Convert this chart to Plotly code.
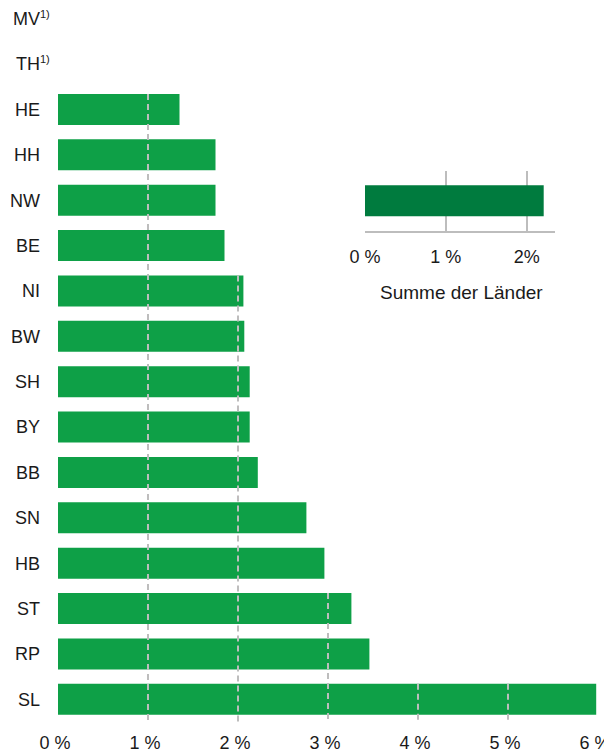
import plotly.graph_objects as go

# Anteil je Land (in %), von oben nach unten; MV und TH ohne Wert
states = ["MV", "TH", "HE", "HH", "NW", "BE", "NI", "BW",
          "SH", "BY", "BB", "SN", "HB", "ST", "RP", "SL"]
values = [None, None, 1.35, 1.75, 1.75, 1.85, 2.06, 2.07,
          2.13, 2.13, 2.22, 2.76, 2.96, 3.26, 3.46, 5.98]
footnotes = {"MV": "1)", "TH": "1)"}

x_ticks = [0, 1, 2, 3, 4, 5, 6]
x_ticktext = ["0 %", "1 %", "2 %", "3 %", "4 %", "5 %", "6 %"]

# Kleines Diagramm rechts oben
total_label = "Summe der Länder"
total_value = 2.21
total_ticks = [0, 1, 2]
total_ticktext = ["0 %", "1 %", "2%"]

GREEN = "#0EA047"
DARK_GREEN = "#007B3E"
GRID = "#BDBDBD"
FONT = "Liberation Sans, Arial, sans-serif"
BAR_W = 0.683

fig = go.Figure()

fig.add_trace(go.Bar(
    x=values,
    y=states,
    orientation="h",
    width=BAR_W,
    marker=dict(color=GREEN, line=dict(width=0)),
    hoverinfo="x+y",
    showlegend=False,
))

fig.add_trace(go.Bar(
    x=[total_value],
    y=[total_label],
    orientation="h",
    width=0.52,
    marker=dict(color=DARK_GREEN, line=dict(width=0)),
    xaxis="x2",
    yaxis="y2",
    showlegend=False,
))

# gestrichelte Hilfslinien: beginnen am ersten Balken, der sie erreicht
n = len(states)
for t in x_ticks[1:-1]:
    idx = next(i for i, v in enumerate(values) if v is not None and v >= t)
    fig.add_shape(
        type="line", xref="x", yref="y",
        x0=t, x1=t, y0=idx - BAR_W / 2, y1=n - 0.5,
        line=dict(color=GRID, width=2, dash="6px,4px"),
        layer="above",
    )

# Fußnotenzeichen hinter den Länderkürzeln
for st, note in footnotes.items():
    fig.add_annotation(
        text=note, xref="paper", yref="y", x=-0.037, y=st,
        xanchor="left", yanchor="middle", yshift=5,
        showarrow=False, font=dict(size=11, color="#1a1a1a", family=FONT),
    )

fig.add_annotation(
    text=total_label, xref="paper", yref="paper",
    x=0.7463, y=0.6022, xanchor="center", yanchor="middle",
    showarrow=False,
    font=dict(size=19, color="#1a1a1a", family=FONT),
)

# Seite hat 8px Rand, daher 604x746
fig.update_layout(
    width=604,
    height=746,
    margin=dict(l=50, r=14, t=0, b=32),
    paper_bgcolor="white",
    plot_bgcolor="white",
    font=dict(family=FONT, size=18, color="#1a1a1a"),
    xaxis=dict(
        range=[0, 6],
        tickvals=x_ticks,
        ticktext=x_ticktext,
        showgrid=False,
        zeroline=False,
        showline=False,
        ticks="",
        ticklabelstandoff=8,
        ticklabelshift=-3,
        automargin=False,
        fixedrange=True,
    ),
    yaxis=dict(
        type="category",
        categoryorder="array",
        categoryarray=states,
        range=[n - 0.5, -0.2356],
        showgrid=False,
        zeroline=False,
        showline=False,
        ticks="",
        ticklabelstandoff=17,
        automargin=False,
        fixedrange=True,
    ),
    xaxis2=dict(
        domain=[0.5685, 0.9204],
        anchor="y2",
        range=[0, 2.35],
        tickvals=total_ticks,
        ticktext=total_ticktext,
        showgrid=True,
        gridcolor=GRID,
        gridwidth=1.5,
        zeroline=False,
        showline=True,
        linecolor=GRID,
        linewidth=1.5,
        ticks="",
        ticklabelstandoff=9,
        fixedrange=True,
    ),
    yaxis2=dict(
        domain=[0.6881, 0.7717],
        anchor="x2",
        range=[-0.5, 0.5],
        showticklabels=False,
        showgrid=False,
        zeroline=False,
        showline=False,
        fixedrange=True,
    ),
)

fig.write_html("out.html")
